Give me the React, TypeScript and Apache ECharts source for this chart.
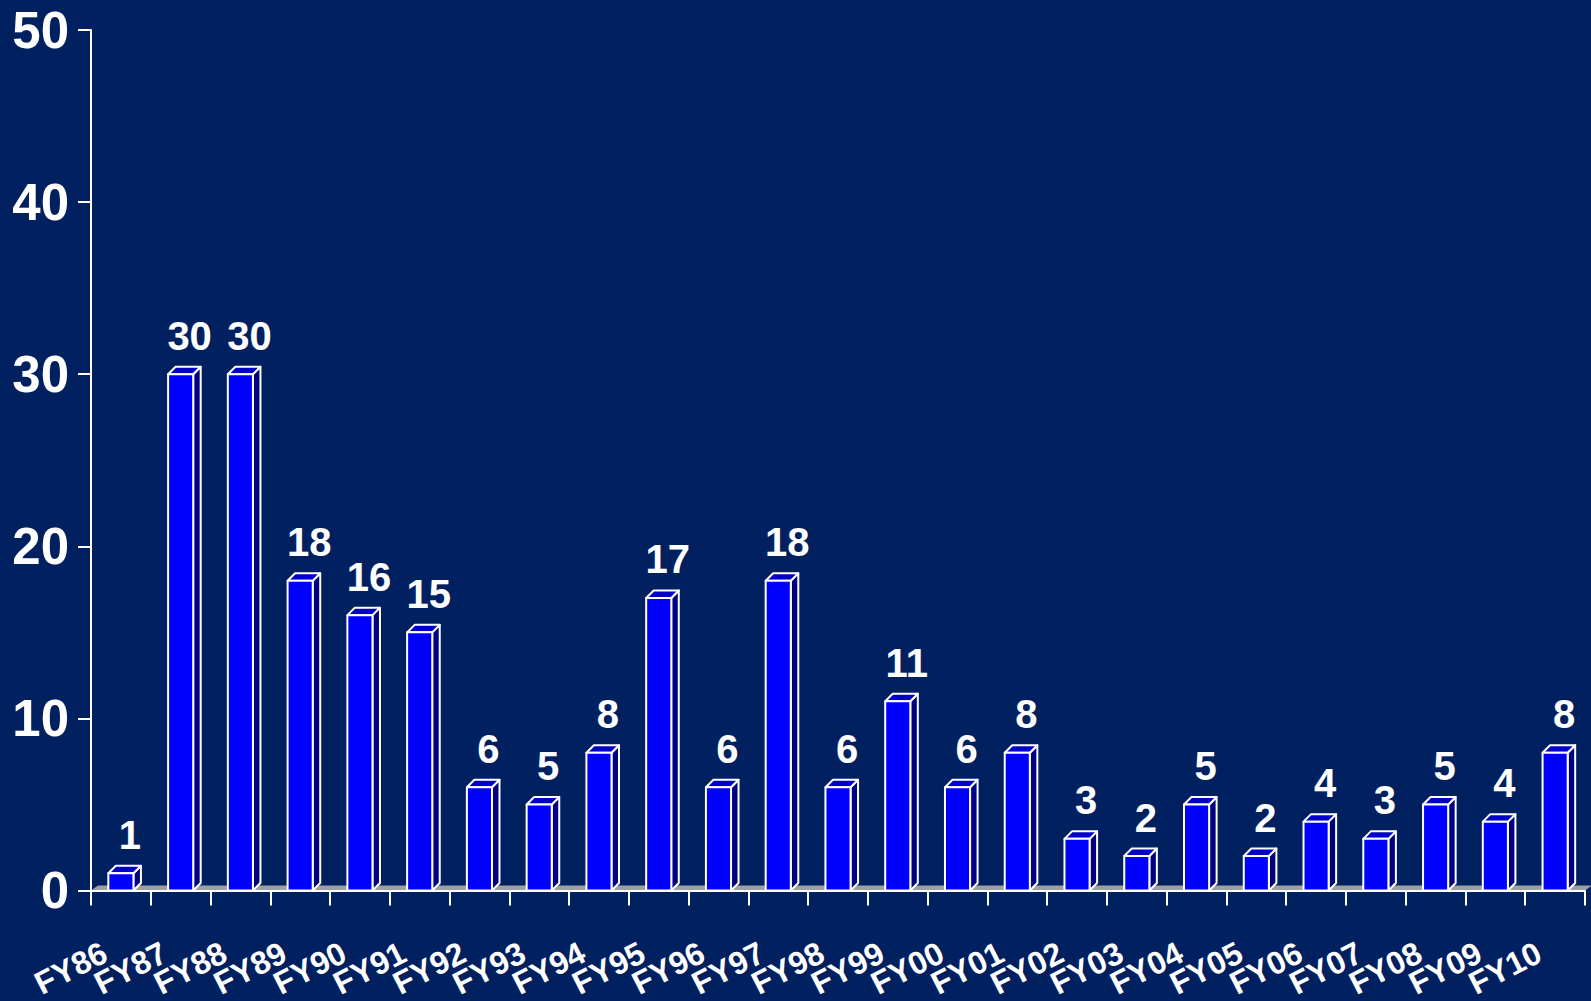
import React, { useEffect, useRef } from "react";
import * as echarts from "echarts";

const categories = [
  "FY86", "FY87", "FY88", "FY89", "FY90", "FY91", "FY92", "FY93", "FY94",
  "FY95", "FY96", "FY97", "FY98", "FY99", "FY00", "FY01", "FY02", "FY03",
  "FY04", "FY05", "FY06", "FY07", "FY08", "FY09", "FY10",
];
const values = [1, 30, 30, 18, 16, 15, 6, 5, 8, 17, 6, 18, 6, 11, 6, 8, 3, 2, 5, 2, 4, 3, 5, 4, 8];
const yMin = 0;
const yMax = 50;
const yInterval = 10;

const FONT = '"Liberation Sans", Arial, sans-serif';
const BG = "#002060";

export default function App() {
  const ref = useRef<HTMLDivElement>(null);
  useEffect(() => {
    if (!ref.current) return;
    const chart = echarts.init(ref.current, undefined, { renderer: "svg" });
    const depth = 7.5;
    chart.setOption({
      animation: false,
      backgroundColor: BG,
      grid: { left: 91, right: 6, top: 30, bottom: 109.5, containLabel: false },
      xAxis: {
        type: "category",
        data: categories,
        z: 2,
        axisLine: { lineStyle: { color: "#ffffff", width: 2 } },
        axisTick: { show: true, length: 15, lineStyle: { color: "#ffffff", width: 2 } },
        axisLabel: {
          interval: 0,
          rotate: 27,
          margin: 52,
          padding: [0, 18, 0, 0],
          color: "#ffffff",
          fontSize: 32,
          fontWeight: "bold",
          fontFamily: FONT,
        },
        splitLine: { show: false },
      },
      yAxis: {
        type: "value",
        min: yMin,
        max: yMax,
        interval: yInterval,
        z: 2,
        axisLine: { show: true, lineStyle: { color: "#ffffff", width: 2 } },
        axisTick: { show: true, length: 13, lineStyle: { color: "#ffffff", width: 2 } },
        axisLabel: {
          margin: 22,
          color: "#ffffff",
          fontSize: 51,
          fontWeight: "bold",
          fontFamily: FONT,
        },
        splitLine: { show: false },
      },
      series: [
        {
          type: "custom",
          z: 1,
          silent: true,
          data: [[0, 0]],
          renderItem: (params: any, api: any) => {
            const first = api.coord([0, 0]);
            const last = api.coord([categories.length - 1, 0]);
            const band = api.size([1, 0])[0];
            const xL = first[0] - band / 2;
            const xR = last[0] + band / 2;
            const y = first[1];
            return {
              type: "polygon",
              shape: {
                points: [
                  [xL, y],
                  [xL + 7, y - 5],
                  [xR + 7, y - 5],
                  [xR, y],
                ],
              },
              style: { fill: "#a0a0a0" },
            };
          },
        },
        {
          type: "custom",
          z: 3,
          data: values.map((v, i) => [i, v]),
          renderItem: (params: any, api: any) => {
            const idx = api.value(0);
            const v = api.value(1);
            const top = api.coord([idx, v]);
            const base = api.coord([idx, 0]);
            const band = api.size([1, 0])[0];
            const w = band * 0.42;
            const x0 = top[0] - w / 2;
            const x1 = top[0] + w / 2;
            const yT = top[1];
            const yB = base[1];
            const stroke = { stroke: "#ffffff", lineWidth: 2, lineJoin: "round" };
            return {
              type: "group",
              children: [
                {
                  type: "polygon",
                  shape: {
                    points: [
                      [x1, yT],
                      [x1 + depth, yT - depth],
                      [x1 + depth, yB - depth],
                      [x1, yB],
                    ],
                  },
                  style: { fill: "#000080", ...stroke },
                },
                {
                  type: "polygon",
                  shape: {
                    points: [
                      [x0, yT],
                      [x0 + depth, yT - depth],
                      [x1 + depth, yT - depth],
                      [x1, yT],
                    ],
                  },
                  style: { fill: "#0000c8", ...stroke },
                },
                {
                  type: "rect",
                  shape: { x: x0, y: yT, width: w, height: yB - yT },
                  style: { fill: "#0000ff", ...stroke },
                },
                {
                  type: "text",
                  style: {
                    text: String(v),
                    x: top[0] + 9,
                    y: yT - depth - 11,
                    align: "center",
                    verticalAlign: "bottom",
                    fill: "#ffffff",
                    fontSize: 40,
                    fontWeight: "bold",
                    fontFamily: FONT,
                  },
                },
              ],
            };
          },
        },
      ],
    });
    return () => chart.dispose();
  }, []);
  return (
    <div
      ref={ref}
      style={{ position: "fixed", left: 0, top: 0, width: 1591, height: 1001, background: BG }}
    />
  );
}
